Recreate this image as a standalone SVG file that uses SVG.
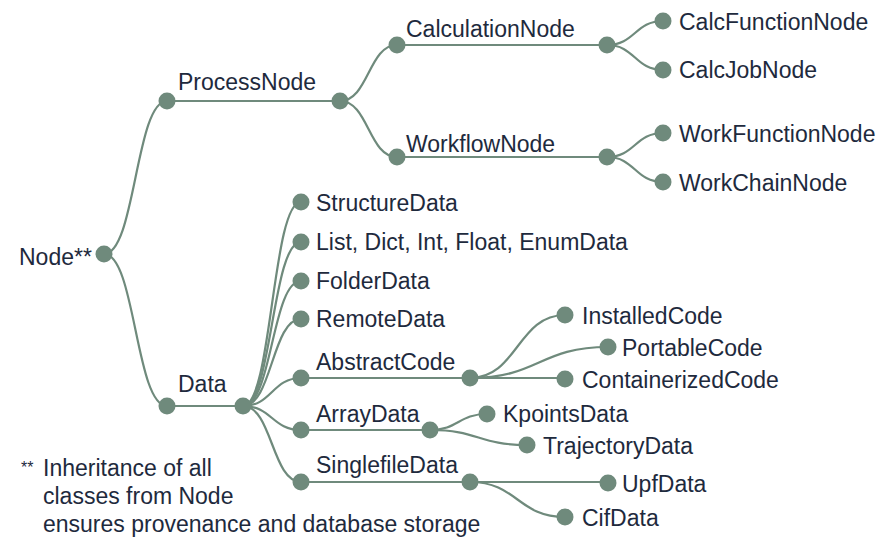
<svg xmlns="http://www.w3.org/2000/svg" width="880" height="540" viewBox="0 0 880 540">
<style>
.l{fill:none;stroke:#6f8a7c;stroke-width:2.2}
.d{fill:#6f8a7c}
text{font-family:"Liberation Sans",Arial,sans-serif;font-size:23px;fill:#1e2a3d}
.st{font-size:16px}
</style>
<rect width="880" height="540" fill="#ffffff"/>
<g id="connectors">
<path class="l" d="M104,254 C135.5,254 135.5,101 167,101"/>
<path class="l" d="M104,254 C135.5,254 135.5,406 167,406"/>
<path class="l" d="M167,101 H340"/>
<path class="l" d="M340,101 C368.5,101 368.5,45 397,45"/>
<path class="l" d="M340,101 C368.5,101 368.5,157 397,157"/>
<path class="l" d="M397,45 H607"/>
<path class="l" d="M397,157 H607"/>
<path class="l" d="M607,45 C635,45 635,21 663,21"/>
<path class="l" d="M607,45 C635,45 635,70 663,70"/>
<path class="l" d="M607,157 C635,157 635,133 663,133"/>
<path class="l" d="M607,157 C635,157 635,182 663,182"/>
<path class="l" d="M167,406 H243"/>
<path class="l" d="M243,406 C272,406 272,202 301,202"/>
<path class="l" d="M243,406 C272,406 272,242 301,242"/>
<path class="l" d="M243,406 C272,406 272,281 301,281"/>
<path class="l" d="M243,406 C272,406 272,319 301,319"/>
<path class="l" d="M243,406 C272,406 272,378 301,378"/>
<path class="l" d="M243,406 C272,406 272,430 301,430"/>
<path class="l" d="M243,406 C272,406 272,482 301,482"/>
<path class="l" d="M301,378 H470"/>
<path class="l" d="M301,430 H430"/>
<path class="l" d="M301,482 H470"/>
<path class="l" d="M470,378 C517.5,378 517.5,315 565,315"/>
<path class="l" d="M470,378 C539,378 539,347 608,347"/>
<path class="l" d="M470,378 H565"/>
<path class="l" d="M430,430 C458.5,430 458.5,414 487,414"/>
<path class="l" d="M430,430 C478.5,430 478.5,445 527,445"/>
<path class="l" d="M470,482 H608"/>
<path class="l" d="M470,482 C517.5,482 517.5,517 565,517"/>
</g>
<g id="node-root"><circle class="d" cx="104" cy="254" r="8.5"/><text x="19" y="265">Node**</text></g>
<g id="node-process"><circle class="d" cx="167" cy="101" r="8.5"/><circle class="d" cx="340" cy="101" r="8.5"/><text x="178" y="90">ProcessNode</text></g>
<g id="node-calculation"><circle class="d" cx="397" cy="45" r="8.5"/><circle class="d" cx="607" cy="45" r="8.5"/><text x="406" y="37">CalculationNode</text></g>
<g id="node-workflow"><circle class="d" cx="397" cy="157" r="8.5"/><circle class="d" cx="607" cy="157" r="8.5"/><text x="406" y="152">WorkflowNode</text></g>
<g id="node-calcfunction"><circle class="d" cx="663" cy="21" r="8.5"/><text x="679" y="30">CalcFunctionNode</text></g>
<g id="node-calcjob"><circle class="d" cx="663" cy="70" r="8.5"/><text x="679" y="78">CalcJobNode</text></g>
<g id="node-workfunction"><circle class="d" cx="663" cy="133" r="8.5"/><text x="679" y="142">WorkFunctionNode</text></g>
<g id="node-workchain"><circle class="d" cx="663" cy="182" r="8.5"/><text x="679" y="191">WorkChainNode</text></g>
<g id="node-data"><circle class="d" cx="167" cy="406" r="8.5"/><circle class="d" cx="243" cy="406" r="8.5"/><text x="178" y="392">Data</text></g>
<g id="node-structure"><circle class="d" cx="301" cy="202" r="8.5"/><text x="316" y="211">StructureData</text></g>
<g id="node-list"><circle class="d" cx="301" cy="242" r="8.5"/><text x="316" y="250">List, Dict, Int, Float, EnumData</text></g>
<g id="node-folder"><circle class="d" cx="301" cy="281" r="8.5"/><text x="316" y="289">FolderData</text></g>
<g id="node-remote"><circle class="d" cx="301" cy="319" r="8.5"/><text x="316" y="327">RemoteData</text></g>
<g id="node-abstractcode"><circle class="d" cx="301" cy="378" r="8.5"/><circle class="d" cx="470" cy="378" r="8.5"/><text x="316" y="370">AbstractCode</text></g>
<g id="node-installed"><circle class="d" cx="565" cy="315" r="8.5"/><text x="582" y="324">InstalledCode</text></g>
<g id="node-portable"><circle class="d" cx="608" cy="347" r="8.5"/><text x="622" y="356">PortableCode</text></g>
<g id="node-containerized"><circle class="d" cx="565" cy="379" r="8.5"/><text x="582" y="388">ContainerizedCode</text></g>
<g id="node-array"><circle class="d" cx="301" cy="430" r="8.5"/><circle class="d" cx="430" cy="430" r="8.5"/><text x="316" y="422">ArrayData</text></g>
<g id="node-kpoints"><circle class="d" cx="487" cy="414" r="8.5"/><text x="503" y="422">KpointsData</text></g>
<g id="node-trajectory"><circle class="d" cx="527" cy="445" r="8.5"/><text x="543" y="454">TrajectoryData</text></g>
<g id="node-singlefile"><circle class="d" cx="301" cy="482" r="8.5"/><circle class="d" cx="470" cy="482" r="8.5"/><text x="316" y="473">SinglefileData</text></g>
<g id="node-upf"><circle class="d" cx="608" cy="483" r="8.5"/><text x="622" y="492">UpfData</text></g>
<g id="node-cif"><circle class="d" cx="565" cy="517" r="8.5"/><text x="582" y="526">CifData</text></g>
<g id="footnote">
<text class="st" x="21" y="473">**</text>
<text x="43" y="476">Inheritance of all</text>
<text x="43" y="504">classes from Node</text>
<text x="43" y="532">ensures provenance and database storage</text>
</g>
</svg>
